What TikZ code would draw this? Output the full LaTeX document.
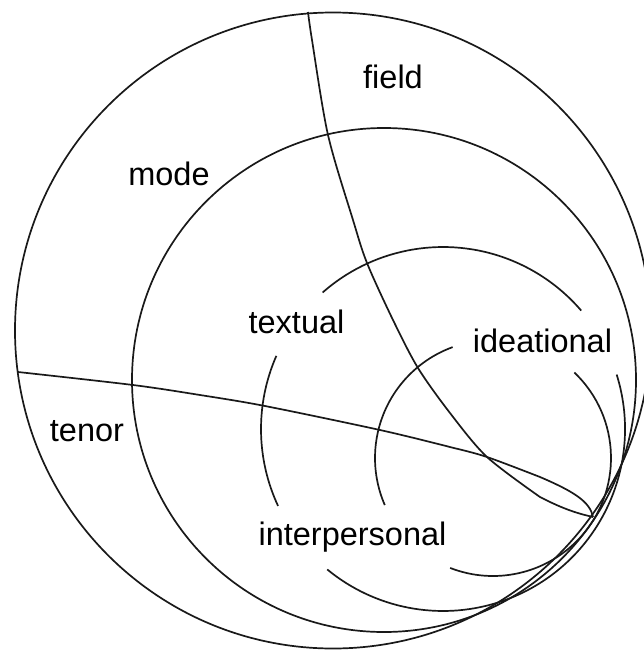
\documentclass[tikz,border=0pt]{standalone}
\usepackage{fontspec}
\setmainfont{Liberation Sans}
\usetikzlibrary{calc}
\tikzset{
  rim/.style={draw=black!90, line width=1.7pt},
  lbl/.style={font=\fontsize{32.5}{39}\selectfont, anchor=base, inner sep=0pt},
}
\begin{document}
\begin{tikzpicture}[x=1pt, y=-1pt]
  \useasboundingbox (0,0) rectangle (644,651);
  \coordinate (c0) at (333,330.5);
  \coordinate (c1) at (384,380);
  \coordinate (c2) at (443,429);
  \coordinate (c3) at (493,458);
  \coordinate (tip) at (593,517);

  \draw[rim] (c0) circle[radius=318];
  \draw[rim] (c1) circle[radius=252];

  \draw[rim] ($(c2)+(-131.4:182)$) arc[start angle=-131.4, end angle=-40.6, radius=182];
  \draw[rim] ($(c2)+(155:182)$) arc[start angle=155, end angle=203.7, radius=182];
  \draw[rim] ($(c2)+(-17.4:182)$) arc[start angle=-17.4, end angle=129.5, radius=182];

  \draw[rim] ($(c3)+(156.5:118)$) arc[start angle=156.5, end angle=250, radius=118];
  \draw[rim] ($(c3)+(-46.4:118)$) arc[start angle=-46.4, end angle=111.3, radius=118];

  \draw[rim] plot[smooth] coordinates {(308,12) (312,40) (328,135) (353,220) (367,263) (393,320)
    (418,368) (450,413) (487,457) (540,497)} .. controls (565,510) and (580,514) .. (tip);
  \draw[rim] plot[smooth] coordinates {(18,372) (133,385) (200,395) (265,406) (380,430) (450,447)
    (487,457) (540,477)} .. controls (575,492) and (590,502) .. (tip);

  \node[lbl] (field) at (393,88) {field};
  \node[lbl] (mode) at (169,185) {mode};
  \node[lbl] (textual) at (296.5,333) {textual};
  \node[lbl] (ideational) at (542.5,352) {ideational};
  \node[lbl] (tenor) at (87,441.5) {tenor};
  \node[lbl] (interpersonal) at (352.5,545) {interpersonal};
\end{tikzpicture}
\end{document}
